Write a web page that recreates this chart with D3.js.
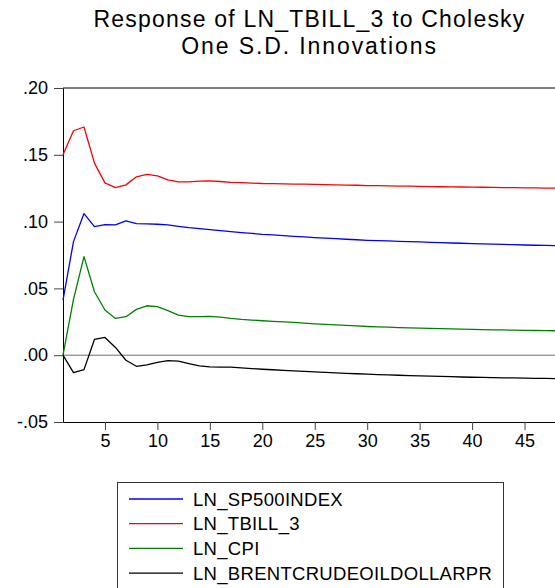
<!DOCTYPE html>
<html>
<head>
<meta charset="utf-8">
<script src="https://cdn.jsdelivr.net/npm/d3@7"></script>
<style>
  body { margin: 0; background: #fff; }
  svg { display: block; font-family: Arial, "Liberation Sans", sans-serif; }
</style>
</head>
<body>
<svg id="canvas" width="555" height="588"></svg>
<script>
// periods 1..48
const periods = d3.range(1, 49);

const sp500 = [0.0413, 0.0850, 0.1060, 0.0963, 0.0978, 0.0975, 0.1005, 0.0985, 0.0983, 0.0980,
  0.0975, 0.0965, 0.0955, 0.0948, 0.0940, 0.0933, 0.0925, 0.0918, 0.0912, 0.0905,
  0.0900, 0.0895, 0.0890, 0.0885, 0.0880, 0.0876, 0.0872, 0.0868, 0.0864, 0.0860,
  0.0857, 0.0855, 0.0852, 0.0850, 0.0848, 0.0845, 0.0843, 0.0840, 0.0838, 0.0835,
  0.0833, 0.0831, 0.0829, 0.0827, 0.0825, 0.0823, 0.0822, 0.0820];

const tbill = [0.1500, 0.1680, 0.1708, 0.1438, 0.1290, 0.1255, 0.1275, 0.1335, 0.1353, 0.1343,
  0.1313, 0.1298, 0.1298, 0.1303, 0.1305, 0.1300, 0.1293, 0.1291, 0.1288, 0.1285,
  0.1284, 0.1283, 0.1281, 0.1280, 0.1278, 0.1277, 0.1275, 0.1273, 0.1272, 0.1270,
  0.1269, 0.1267, 0.1266, 0.1265, 0.1263, 0.1262, 0.1261, 0.1260, 0.1259, 0.1258,
  0.1257, 0.1256, 0.1255, 0.1254, 0.1253, 0.1252, 0.1251, 0.1250];

const cpi = [0.0000, 0.0418, 0.0738, 0.0475, 0.0338, 0.0275, 0.0288, 0.0343, 0.0370, 0.0363,
  0.0333, 0.0300, 0.0288, 0.0288, 0.0290, 0.0285, 0.0275, 0.0268, 0.0263, 0.0258,
  0.0253, 0.0249, 0.0245, 0.0240, 0.0235, 0.0231, 0.0227, 0.0223, 0.0219, 0.0215,
  0.0212, 0.0210, 0.0207, 0.0205, 0.0203, 0.0201, 0.0199, 0.0197, 0.0195, 0.0193,
  0.0192, 0.0190, 0.0189, 0.0187, 0.0186, 0.0185, 0.0184, 0.0183];

const brent = [0.0000, -0.0130, -0.0108, 0.0118, 0.0133, 0.0058, -0.0038, -0.0083, -0.0073, -0.0053,
  -0.0040, -0.0045, -0.0063, -0.0080, -0.0088, -0.0090, -0.0090, -0.0095, -0.0100, -0.0105,
  -0.0109, -0.0113, -0.0117, -0.0121, -0.0125, -0.0129, -0.0132, -0.0136, -0.0139, -0.0142,
  -0.0145, -0.0148, -0.0150, -0.0153, -0.0155, -0.0157, -0.0159, -0.0161, -0.0163, -0.0165,
  -0.0166, -0.0168, -0.0169, -0.0170, -0.0172, -0.0173, -0.0174, -0.0175];

const seriesNames = ['LN_SP500INDEX', 'LN_TBILL_3', 'LN_CPI', 'LN_BRENTCRUDEOILDOLLARPR'];
const seriesColors = ['#0000ff', '#ff0000', '#008000', '#000000'];
const seriesValues = [sp500, tbill, cpi, brent];

const yTicks = [-0.05, 0.00, 0.05, 0.10, 0.15, 0.20];
const xTicks = [5, 10, 15, 20, 25, 30, 35, 40, 45];
const titleLines = ['Response of LN_TBILL_3 to Cholesky', 'One S.D. Innovations'];

const plotLeft = 63, plotRight = 556, plotTop = 88, plotBottom = 422;

let canvas = d3.select('#canvas');

let x = d3.scaleLinear().domain([1, 48]).range([plotLeft, plotRight]);
let y = d3.scaleLinear().domain([-0.05, 0.20]).range([plotBottom, plotTop]);

// title
canvas.append('g')
  .selectAll('text')
  .data(titleLines)
  .enter()
  .append('text')
  .attr('x', (plotLeft + plotRight) / 2)
  .attr('y', (d, i) => 27 + i * 26.5)
  .attr('text-anchor', 'middle')
  .attr('font-size', 23)
  .attr('letter-spacing', (d, i) => i === 0 ? 1.2 : 1.9)
  .attr('fill', '#000')
  .text((d) => d);

// top frame line
canvas.append('line')
  .attr('x1', plotLeft).attr('x2', plotRight)
  .attr('y1', plotTop).attr('y2', plotTop)
  .attr('stroke', '#000').attr('stroke-width', 1);

// zero line
canvas.append('line')
  .attr('x1', plotLeft).attr('x2', plotRight)
  .attr('y1', y(0)).attr('y2', y(0))
  .attr('stroke', '#6e6e6e').attr('stroke-width', 1);

let fmt = (d) => {
  let s = d3.format('.2f')(Math.abs(d)).replace(/^0/, '');
  return (d < 0 ? '-' : '') + s;
};

let yAxis = canvas.append('g')
  .attr('transform', `translate(${plotLeft},0)`)
  .call(d3.axisLeft(y).tickValues(yTicks).tickFormat(fmt).tickSize(9).tickSizeOuter(0).tickPadding(6));

let xAxis = canvas.append('g')
  .attr('transform', `translate(0,${plotBottom})`)
  .call(d3.axisBottom(x).tickValues(xTicks).tickSize(8).tickSizeOuter(0).tickPadding(4));

[yAxis, xAxis].forEach((ax) => {
  ax.selectAll('text').attr('font-size', 18).attr('fill', '#000').attr('font-family', 'Arial, "Liberation Sans", sans-serif');
  ax.selectAll('.tick line').attr('stroke', '#444');
  ax.select('.domain').attr('stroke', '#000');
});

// response lines
let line = d3.line()
  .x((d, i) => x(periods[i]))
  .y((d) => y(d));

canvas.append('g')
  .selectAll('path')
  .data(seriesValues)
  .enter()
  .append('path')
  .attr('d', line)
  .attr('fill', 'none')
  .attr('stroke', (d, i) => seriesColors[i])
  .attr('stroke-width', 1.3)
  .attr('stroke-linejoin', 'round');

// legend
let legend = canvas.append('g');
legend.append('rect')
  .attr('x', 117.5).attr('y', 482.5)
  .attr('width', 386).attr('height', 130)
  .attr('fill', '#fff').attr('stroke', '#333').attr('stroke-width', 1);

let rows = legend.selectAll('g.row')
  .data(seriesNames)
  .enter()
  .append('g')
  .attr('class', 'row')
  .attr('transform', (d, i) => `translate(0,${499 + i * 24.7})`);

rows.append('line')
  .attr('x1', 129).attr('x2', 183)
  .attr('y1', 0).attr('y2', 0)
  .attr('stroke', (d, i) => seriesColors[i])
  .attr('stroke-width', 1.3);

rows.append('text')
  .attr('x', 193)
  .attr('y', 6.5)
  .attr('font-size', 18.5)
  .attr('letter-spacing', 0.3)
  .attr('fill', '#000')
  .text((d) => d);
</script>
</body>
</html>
